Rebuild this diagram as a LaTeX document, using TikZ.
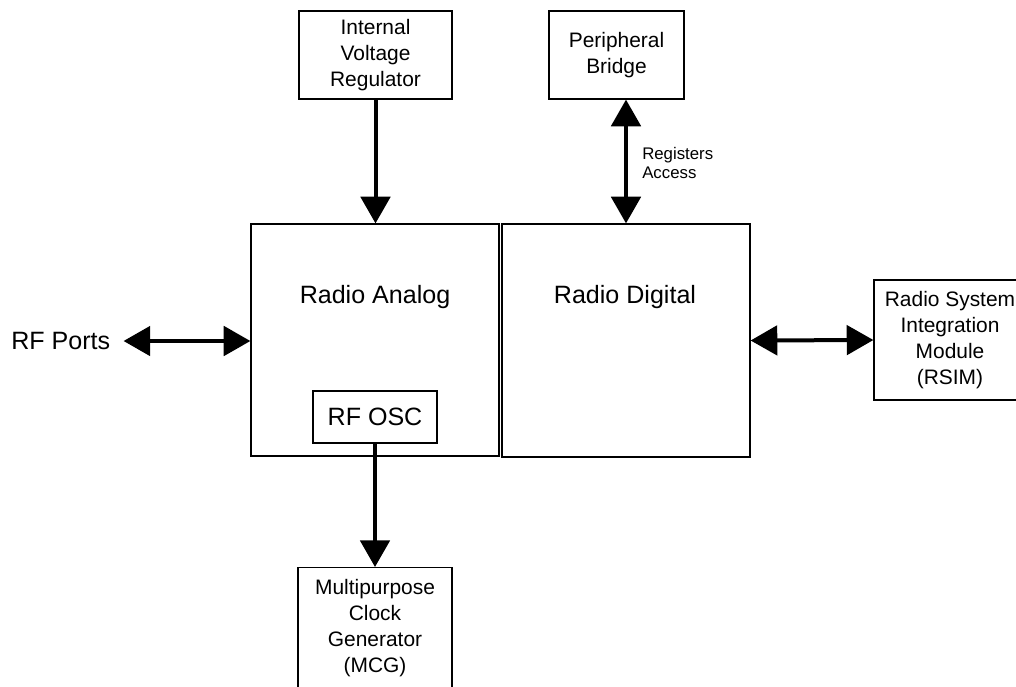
\documentclass[tikz,border=0pt]{standalone}
\usepackage{fontspec}
\setmainfont{Liberation Sans}
\usetikzlibrary{arrows.meta}
\begin{document}
\begin{tikzpicture}[x=0.75pt,y=-0.75pt,
  blk/.style={draw,line width=0.9pt,inner sep=0pt,align=center,
    font=\fontsize{15.7}{19.5}\selectfont},
  bus/.style={line width=3pt,-{Triangle[length=20pt,width=22pt]}},
  dbus/.style={line width=3pt,{Triangle[length=20pt,width=22pt]}-{Triangle[length=20pt,width=22pt]}},
  big/.style={font=\fontsize{18.8}{22}\selectfont,inner sep=0pt}]
\useasboundingbox (0,0) rectangle (1016,686);
% blocks
\node[blk,minimum width=114.75pt,minimum height=66pt] (ivr) at (375.5,55)
  {Internal\\Voltage\\Regulator};
\node[blk,minimum width=101.25pt,minimum height=66pt] (pb) at (616.5,55)
  {Peripheral\\Bridge};
\node[blk,minimum width=186pt,minimum height=174pt] (ana) at (375,340) {};
\node[blk,minimum width=186pt,minimum height=174.75pt] (dig) at (626,340.5) {};
\node[big] (anatxt) at (375,297) {Radio Analog};
\node[big] (digtxt) at (625,297) {Radio Digital};
\node[blk,big,draw,minimum width=93pt,minimum height=39pt] (osc) at (375,417) {RF OSC};
\node[blk,minimum width=114pt,minimum height=90pt] (rsim) at (950,340)
  {Radio System\\Integration\\Module\\(RSIM)};
\node[blk,anchor=north,minimum width=115.5pt,minimum height=91pt] (mcg) at (375,567)
  {Multipurpose\\Clock\\Generator\\(MCG)};
\node[big,anchor=west,outer xsep=10pt] (rfp) at (-2,341) {RF Ports};
\node[anchor=west,inner sep=0pt,align=left,font=\fontsize{12.6}{13.8}\selectfont]
  (reg) at (642,163) {Registers\\Access};
% connectors
\draw[bus] (ivr.south) -- (ivr.south |- ana.north);
\draw[dbus] (pb.south -| dig.north) -- (dig.north);
\draw[dbus] (rfp.east) -- (rfp.east -| ana.west);
\draw[dbus] (dig.east) -- (rsim.west);
\draw[bus] (osc.south) -- (mcg.north);
\end{tikzpicture}
\end{document}
